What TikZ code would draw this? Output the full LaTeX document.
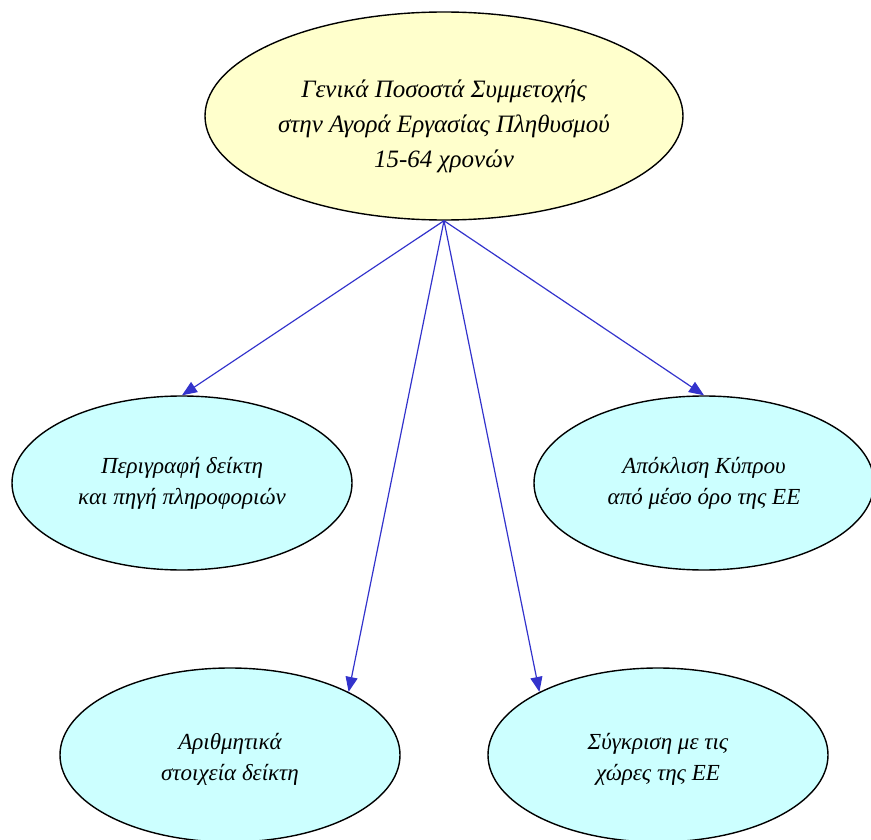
\documentclass[tikz,border=0pt]{standalone}
\usepackage{fontspec}
\setmainfont{Liberation Serif}
\usetikzlibrary{shapes.geometric,arrows.meta}
\definecolor{paleyellow}{HTML}{FFFFCC}
\definecolor{palecyan}{HTML}{CCFFFF}
\definecolor{linkblue}{HTML}{3333CC}
\begin{document}
\begin{tikzpicture}[x=1pt,y=-1pt,
    topnode/.style={ellipse,draw=black,line width=1.4pt,fill=paleyellow,inner sep=0pt,
      minimum width=478pt,minimum height=208pt,align=center,
      font=\itshape\fontsize{25}{35}\selectfont},
    subnode/.style={ellipse,draw=black,line width=1.4pt,fill=palecyan,inner sep=0pt,
      minimum width=340pt,minimum height=174pt,align=center,
      font=\itshape\fontsize{23}{31}\selectfont},
    link/.style={draw=linkblue,line width=1.2pt,-{Triangle[length=15pt,width=12pt]}}]
\useasboundingbox (0,0) rectangle (871,840);
\node[topnode] (rate) at (444,116) {\rule{0pt}{38pt}Γενικά Ποσοστά Συμμετοχής\\στην Αγορά Εργασίας Πληθυσμού\\15-64 χρονών};
\node[subnode] (descr) at (182,483) {Περιγραφή δείκτη\\και πηγή πληροφοριών};
\node[subnode] (gap) at (704,483) {Απόκλιση Κύπρου\\από μέσο όρο της ΕΕ};
\node[subnode] (figures) at (230,755) {\rule{0pt}{24pt}Αριθμητικά\\στοιχεία δείκτη};
\node[subnode] (compare) at (658,755) {\rule{0pt}{24pt}Σύγκριση με τις\\χώρες της ΕΕ};
\draw[link] (rate.south) -- (descr.north);
\draw[link] (rate.south) -- (gap.north);
\draw[link] (rate.south) -- (figures.28);
\draw[link] (rate.south) -- (compare.152);
\end{tikzpicture}
\end{document}
